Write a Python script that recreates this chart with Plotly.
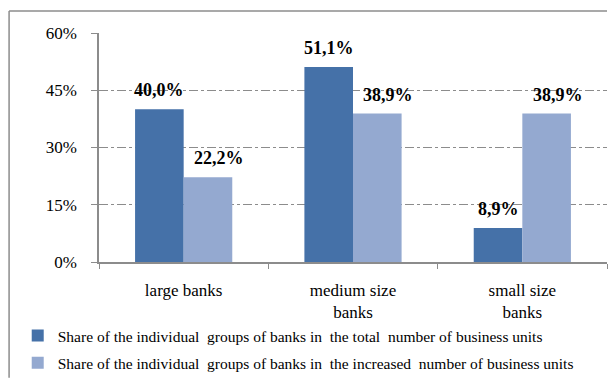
import plotly.graph_objects as go

# Bank groups and their shares (%)
categories = ["large banks", "medium size<br>banks", "small size<br>banks"]
share_total = [40.0, 51.1, 8.9]
share_increased = [22.2, 38.9, 38.9]
series_names = [
    "Share of the individual  groups of banks in  the total  number of business units",
    "Share of the individual  groups of banks in  the increased  number of business units",
]
y_ticks = [0, 15, 30, 45, 60]
y_tick_text = [f"{t}%" for t in y_ticks]

DARK = "#4571A8"
LIGHT = "#94A9D0"
FRAME = "#8c8c8c"
SERIF = "Liberation Serif"


def fmt(v):
    return f"{v:.1f}".replace(".", ",") + "%"


fig = go.Figure()
fig.add_trace(go.Bar(x=categories, y=share_total, name=series_names[0],
                     marker=dict(color=DARK, line=dict(width=0)),
                     legendgroup="a"))
fig.add_trace(go.Bar(x=categories, y=share_increased, name=series_names[1],
                     marker=dict(color=LIGHT, line=dict(width=0)),
                     legendgroup="b"))

# Value labels above each bar
annotations = []
for series, off, xs in ((share_total, -0.5, 0), (share_increased, 0.5, 11)):
    for i, v in enumerate(series):
        annotations.append(dict(
            x=i, y=v, xref="x", yref="y", text="<b>" + fmt(v) + "</b>",
            showarrow=False, yanchor="bottom", xanchor="center",
            xshift=off * 48.5 + xs, yshift=7,
            font=dict(family=SERIF, size=18, color="black"),
        ))

# Chart-area frame: left and top edges, kept inside the page
frame = [
    dict(type="line", xref="paper", yref="paper",
         x0=-0.177, x1=-0.177, y0=-0.505, y1=1.096,
         line=dict(color=FRAME, width=1.5), layer="below"),
    dict(type="line", xref="paper", yref="paper",
         x0=-0.177, x1=1.0, y0=1.096, y1=1.096,
         line=dict(color=FRAME, width=1.5), layer="below"),
]

fig.update_layout(
    width=608, height=379,
    margin=dict(l=99, r=1, t=33, b=117, autoexpand=False),
    paper_bgcolor="white", plot_bgcolor="white",
    barmode="group", bargap=0.426, bargroupgap=0,
    font=dict(family=SERIF, color="black"),
    showlegend=True,
    legend=dict(
        x=-0.16, y=-0.249, xanchor="left", yanchor="top",
        font=dict(family=SERIF, size=15.5, color="black"),
        bgcolor="rgba(0,0,0,0)", tracegroupgap=4,
        itemwidth=30, maxheight=500,
    ),
    annotations=annotations,
    shapes=frame,
)

fig.update_yaxes(
    range=[0, 60], tickvals=y_ticks, ticktext=y_tick_text,
    showgrid=True, gridcolor=FRAME, griddash="dashdot", gridwidth=1,
    showline=True, linecolor=FRAME, linewidth=1.5,
    ticks="outside", ticklen=6, tickcolor=FRAME, ticklabelstandoff=11,
    tickfont=dict(family=SERIF, size=17, color="black"),
    zeroline=False, automargin=False,
)
fig.update_xaxes(
    showline=True, linecolor=FRAME, linewidth=1.5,
    ticks="outside", ticklen=5, tickcolor=FRAME, tickson="boundaries",
    ticklabelstandoff=12,
    tickfont=dict(family=SERIF, size=17, color="black"),
    showgrid=False, automargin=False,
)

fig.write_html("out.html")
